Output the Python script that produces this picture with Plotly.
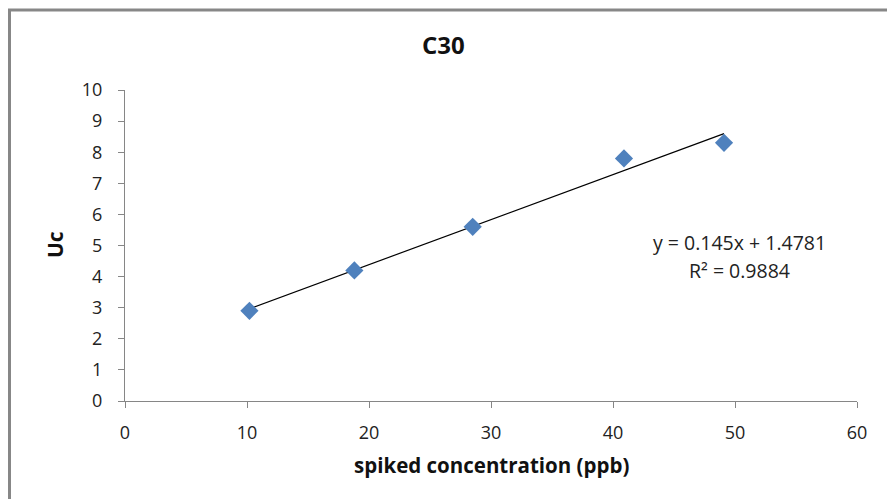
import numpy as np
import plotly.graph_objects as go

# Data
conc = [10.2, 18.8, 28.5, 40.9, 49.1]   # spiked concentration (ppb)
uc = [2.9, 4.2, 5.6, 7.8, 8.3]          # Uc
x_ticks = [0, 10, 20, 30, 40, 50, 60]
y_ticks = [0, 1, 2, 3, 4, 5, 6, 7, 8, 9, 10]
eq_text = "y = 0.145x + 1.4781"
r2_text = "R² = 0.9884"

# Linear trendline from data
slope, intercept = np.polyfit(conc, uc, 1)
tx = [min(conc), max(conc)]
ty = [slope * v + intercept for v in tx]

W, H = 887, 499
L, R, T, B = 125, 30, 90, 98
pw, ph = W - L - R, H - T - B

def px(xp):
    return (xp - L) / pw

def py(yp):
    return (H - B - yp) / ph

FONT = "Open Sans"
AXIS_COL = "#868686"

fig = go.Figure()
fig.add_trace(go.Scatter(
    x=tx, y=ty, mode="lines",
    line=dict(color="black", width=1.2),
    showlegend=False, hoverinfo="skip"))
fig.add_trace(go.Scatter(
    x=conc, y=uc, mode="markers",
    marker=dict(symbol="diamond", size=14, color="#4F81BD",
                line=dict(width=0)),
    showlegend=False))

fig.update_xaxes(
    range=[0, 60], tickvals=x_ticks, showgrid=False, zeroline=False,
    showline=True, linecolor=AXIS_COL, linewidth=1,
    ticks="outside", ticklen=6, tickcolor=AXIS_COL, tickwidth=1,
    tickfont=dict(family=FONT, size=18, color="#222"),
    ticklabelstandoff=9)
fig.update_yaxes(
    range=[0, 10], tickvals=y_ticks, showgrid=False, zeroline=False,
    showline=True, linecolor=AXIS_COL, linewidth=1,
    ticks="outside", ticklen=6, tickcolor=AXIS_COL, tickwidth=1,
    tickfont=dict(family=FONT, size=18, color="#222"),
    ticklabelstandoff=12)

annotations = [
    dict(text="<b>C30</b>", x=px(443), y=py(45), xref="paper", yref="paper",
         showarrow=False, font=dict(family=FONT, size=24, color="#111"),
         xanchor="center", yanchor="middle"),
    dict(text="<b>spiked concentration (ppb)</b>", x=px(491), y=py(465),
         xref="paper", yref="paper", showarrow=False,
         font=dict(family=FONT, size=20.5, color="#111"),
         xanchor="center", yanchor="middle"),
    dict(text="<b>Uc</b>", x=px(55), y=py(245), xref="paper", yref="paper",
         showarrow=False, textangle=-90,
         font=dict(family=FONT, size=21, color="#111"),
         xanchor="center", yanchor="middle"),
    dict(text=eq_text, x=px(739), y=py(242), xref="paper", yref="paper",
         showarrow=False, font=dict(family=FONT, size=19.5, color="#222"),
         xanchor="center", yanchor="middle"),
    dict(text=r2_text, x=px(739), y=py(270), xref="paper", yref="paper",
         showarrow=False, font=dict(family=FONT, size=19.5, color="#222"),
         xanchor="center", yanchor="middle"),
]

shapes = [
    dict(type="path", xref="paper", yref="paper",
         path=f"M {px(9.5)},{py(520)} L {px(9.5)},{py(10)} L {px(900)},{py(10)}",
         line=dict(color="#878787", width=3)),
]

fig.update_layout(
    width=W, height=H,
    margin=dict(l=L, r=R, t=T, b=B),
    paper_bgcolor="white", plot_bgcolor="white",
    annotations=annotations, shapes=shapes,
    font=dict(family=FONT))

fig.write_html("out.html")
